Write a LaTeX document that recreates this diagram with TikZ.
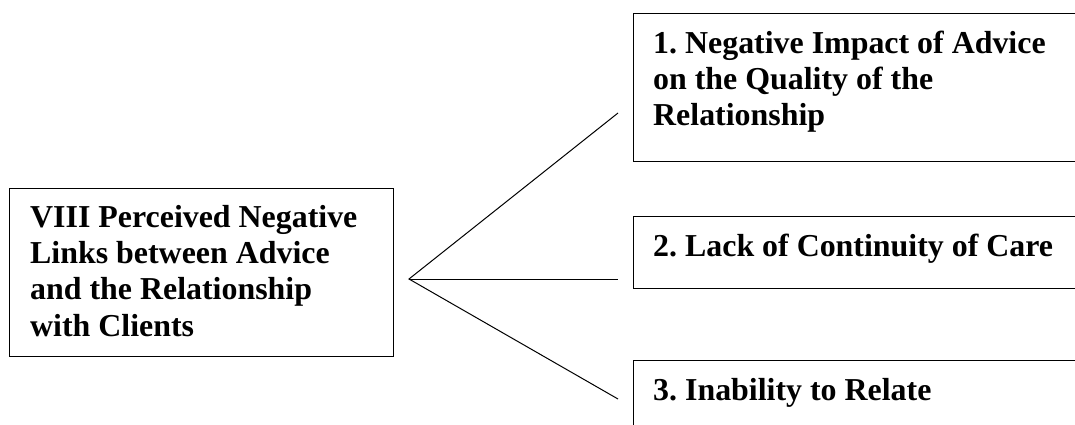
\documentclass[tikz,border=0pt]{standalone}
\usepackage{fontspec}
\setmainfont{Liberation Serif}
\frenchspacing
\begin{document}
\begin{tikzpicture}[x=1pt,y=-1pt,
  boxstyle/.style={draw=black, line width=1.1pt, rectangle, inner sep=0pt, anchor=north west},
  txt/.style={inner sep=0pt, anchor=north west, align=left, font=\fontsize{31.9}{36.4}\selectfont\bfseries},
  link/.style={draw=black, line width=1pt}]
\useasboundingbox (0,0) rectangle (1075,425);
\fill[white] (0,0) rectangle (1075,425);
\begin{scope}
\clip (0,0) rectangle (1075,425);
% left box
\node[boxstyle, minimum width=384pt, minimum height=168pt] (root) at (9,188) {};
\node[txt] (roottxt) at (30,201.5) {\strut VIII Perceived Negative\\\strut Links between Advice\\\strut and the Relationship\\\strut with Clients};
% right boxes
\node[boxstyle, minimum width=500pt, minimum height=148pt] (b1) at (633,13) {};
\node[txt] (t1) at (653,27.5) {\strut 1. Negative Impact of Advice\\\strut on the Quality of the\\\strut Relationship};
\node[boxstyle, minimum width=500pt, minimum height=72pt] (b2) at (633,216) {};
\node[txt] (t2) at (653,230.5) {\strut 2. Lack of Continuity of Care};
\node[boxstyle, minimum width=500pt, minimum height=120pt] (b3) at (633,360) {};
\node[txt] (t3) at (653,374.5) {\strut 3. Inability to Relate};
\end{scope}
% connectors
\coordinate (hub) at (409,279);
\coordinate (e1) at (618,113);
\coordinate (e2) at (618,279);
\coordinate (e3) at (618,399);
\draw[link] (e1) -- (hub) -- (e3);
\draw[link] (hub) -- (e2);
\end{tikzpicture}
\end{document}
